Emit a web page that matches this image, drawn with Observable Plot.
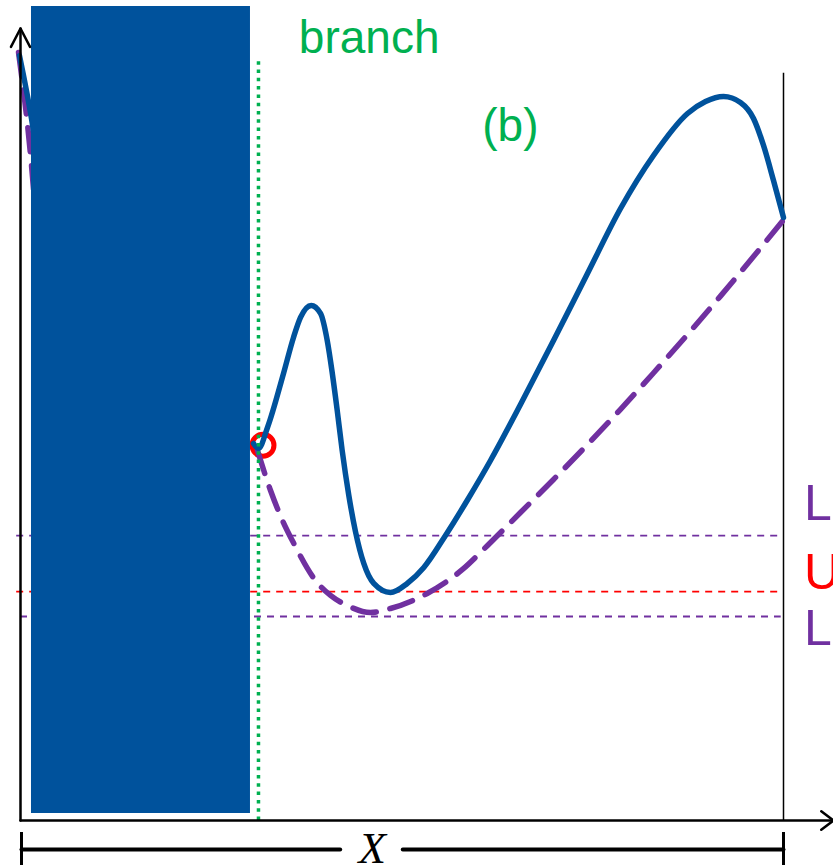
<!DOCTYPE html>
<html>
<head>
<meta charset="utf-8">
<script src="https://cdn.jsdelivr.net/npm/d3@7"></script>
<script src="https://cdn.jsdelivr.net/npm/@observablehq/plot@0.6"></script>
<style>
  html, body { margin: 0; padding: 0; background: #ffffff; }
  #chart svg { display: block; }
</style>
</head>
<body>
<div id="chart"></div>
<script>
// ---- data (x: 0..100 across the X span, y: 0..100 up the vertical axis) ----
// left pieces (mostly hidden behind the block)
const solidLeftX = [-0.13, 1.44, 2.1];
const solidLeftY = [95.6, 87.75, 83.75];
const dashedLeftX = [-0.26, 1.44, 1.83];
const dashedLeftY = [96.0, 81.9, 77.5];

// right pieces
const solidCurveX = [30.54, 31.19, 32.37, 34.47, 35.78, 36.7, 38.1, 39.32, 40.2, 40.85, 41.51, 42.16, 43.03, 43.9, 44.99, 46.3, 48.49, 50.68, 52.86, 55.7, 58.54, 61.6, 65.53, 69.86, 74.31, 78.64, 82.96, 87.42, 89.78, 92.14, 94.36, 96.07, 97.38, 98.69, 100];
const solidCurveY = [47.13, 46.5, 49.13, 55.88, 60.38, 62.88, 64.38, 63.38, 60.0, 56.0, 51.25, 46.25, 40.63, 36.13, 32.13, 29.63, 28.5, 29.63, 31.63, 35.63, 40.0, 45.0, 52.0, 60.0, 68.38, 76.5, 83.13, 88.38, 89.88, 90.5, 89.75, 87.75, 84.38, 80.0, 75.38];

const dashedCurveX = [31.06, 32.77, 34.34, 35.82, 38.66, 40.63, 42.82, 45.87, 48.49, 53.3, 57.93, 61.21, 65.53, 69.86, 74.31, 78.64, 82.96, 87.42, 91.74, 96.07, 100.26];
const dashedCurveY = [46.25, 41.25, 37.5, 34.63, 30.0, 28.13, 26.88, 26.0, 26.5, 28.38, 31.38, 34.38, 38.5, 42.63, 47.0, 51.4, 55.94, 60.75, 65.55, 70.5, 75.38];

const levelNames  = ["L", "U", "L"];
const levelValues = [35.6, 28.6, 25.5];
const levelColors = ["#7030A0", "#FF0000", "#7030A0"];
const levelLabelY = [39.6, 30.9, 24.0];

const blockX = [1.44, 30.14];
const blockY = [0.875, 101.75];

const branchX = 31.19;
const branchTop = 95.25;
const rightEdgeX = 100;
const rightEdgeTop = 93.4;

const markerX = [31.78];
const markerY = [46.9];

const labels = ["branch", "(b)"];
const labelX = [45.7, 64.2];
const labelY = [97.8, 86.8];

const spanLabel = "X";

// ---- build tables ----
const piece = (xs, ys, k) => xs.map((x, i) => ({x, y: ys[i], k}));
const solid = [...piece(solidLeftX, solidLeftY, "left"), ...piece(solidCurveX, solidCurveY, "right")];
const dashed = [...piece(dashedLeftX, dashedLeftY, "left"), ...piece(dashedCurveX, dashedCurveY, "right")];
const levels = levelNames.map((name, i) => ({name, y: levelValues[i], color: levelColors[i], ly: levelLabelY[i]}));
const levelLines = [
  {y: levelValues[0], x1: -0.5, x2: 99.3, color: levelColors[0]},
  {y: levelValues[1], x1: -0.5, x2: 99.3, color: levelColors[1]},
  {y: levelValues[2], x1: 0.0, x2: 99.7, color: levelColors[2]}
];

const xMax = 106.55, yMax = 99;
const axisLines = [
  {x: 0, y: 0, k: "y"}, {x: 0, y: yMax, k: "y"},
  {x: -1.25, y: yMax - 2.3, k: "ya"}, {x: 0, y: yMax, k: "ya"}, {x: 1.25, y: yMax - 2.3, k: "ya"},
  {x: 0, y: 0, k: "x"}, {x: xMax, y: 0, k: "x"},
  {x: xMax - 1.6, y: 1.15, k: "xa"}, {x: xMax, y: 0, k: "xa"}, {x: xMax - 1.6, y: -1.15, k: "xa"}
];
const spanLines = [
  {x: 0.13, y: -3.62, k: "a"}, {x: 41.9, y: -3.62, k: "a"},
  {x: 50.1, y: -3.62, k: "b"}, {x: 100, y: -3.62, k: "b"}
];
const spanTicks = [0.13, 100];

const chart = Plot.plot({
  width: 833,
  height: 865,
  margin: 0,
  x: {domain: [0, 100], range: [20, 783], axis: null},
  y: {domain: [0, 100], range: [820, 20], axis: null},
  style: {overflow: "visible", background: "#ffffff"},
  marks: [
    Plot.ruleY(levelLines, {y: "y", x1: "x1", x2: "x2", stroke: "color", strokeWidth: 1.8, strokeDasharray: "7,6"}),
    Plot.ruleX([rightEdgeX], {y1: 0, y2: rightEdgeTop, stroke: "#000000", strokeWidth: 1.5}),
    Plot.dot({length: 1}, {x: markerX, y: markerY, r: 11, stroke: "#FF0000", strokeWidth: 5, fill: "none"}),
    Plot.line(dashed, {x: "x", y: "y", z: "k", stroke: "#7030A0", strokeWidth: 5.5, strokeDasharray: "24,14", curve: "monotone-x"}),
    Plot.line(solid, {x: "x", y: "y", z: "k", stroke: "#00529C", strokeWidth: 5.5, curve: "monotone-x"}),
    Plot.ruleX([branchX], {y1: 0, y2: branchTop, stroke: "#00B050", strokeWidth: 3.5, strokeDasharray: "3.5,4.8"}),
    Plot.rect({length: 1}, {x1: [blockX[0]], x2: [blockX[1]], y1: [blockY[0]], y2: [blockY[1]], fill: "#00529C"}),
    Plot.line(axisLines, {x: "x", y: "y", z: "k", stroke: "#000000", strokeWidth: 2.5}),
    Plot.line(spanLines, {x: "x", y: "y", z: "k", stroke: "#000000", strokeWidth: 4}),
    Plot.ruleX(spanTicks, {y1: -1.5, y2: -5.7, stroke: "#000000", strokeWidth: 3}),
    Plot.text(labels, {x: (d, i) => labelX[i], y: (d, i) => labelY[i], text: d => d, fill: "#00B050", fontSize: 46, fontFamily: "Liberation Sans, Arial, sans-serif"}),
    Plot.text(levels, {x: 102.7, y: "ly", text: "name", fill: "color", fontSize: 50, textAnchor: "start", fontFamily: "Liberation Sans, Arial, sans-serif"}),
    Plot.text([spanLabel], {x: 46.1, y: -3.45, text: d => d, fill: "#000000", fontSize: 45, fontStyle: "italic", fontFamily: "Liberation Serif, Times New Roman, serif"})
  ]
});
document.getElementById("chart").appendChild(chart);
</script>
</body>
</html>
